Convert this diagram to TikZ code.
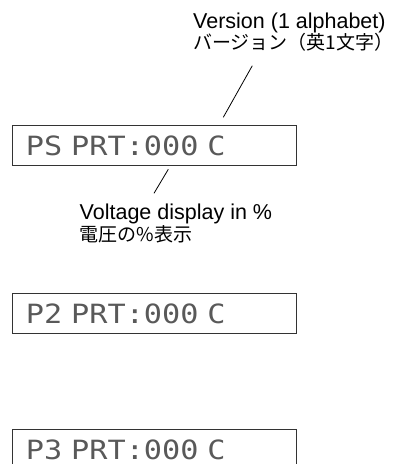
\documentclass[tikz,border=0pt]{standalone}
\usepackage{fontspec}
\setmainfont{Liberation Sans}
\newfontfamily\jpfont{Noto Sans CJK JP}
\newfontfamily\lcdfont[FakeStretch=1.14]{DejaVu Sans Mono}
\begin{document}
\begin{tikzpicture}[x=1pt,y=-1pt,
  lcdbox/.style={draw=black!80, line width=1pt, anchor=north west,
    minimum width=283.4pt, minimum height=40pt, inner xsep=13pt,
    text width=257pt, align=left, text=black!65,
    font=\lcdfont\fontsize{26.5}{30}\selectfont},
  callout/.style={anchor=base west, align=left, inner sep=0pt,
    font=\fontsize{21.5}{21.5}\selectfont},
  leader/.style={draw=black, line width=0.8pt}]
\useasboundingbox (0,0) rectangle (396,464);
\clip (0,0) rectangle (396,464);
% labels (anchor = baseline of the last line)
\node[callout] (ver) at (193,49.5)
  {Version (1 alphabet)\\{\jpfont\fontsize{19}{21.5}\selectfont バージョン（英1文字）}};
\node[callout] (volt) at (79.5,241)
  {Voltage display in \%\\{\jpfont\fontsize{19}{21.5}\selectfont 電圧の\%表示}};
% displays
\node[lcdbox] (ps) at (12.3,125) {PS PRT:000 C};
\node[lcdbox] (p2) at (12.3,293) {P2 PRT:000 C};
\node[lcdbox] (p3) at (12.3,429) {P3 PRT:000 C};
% leader lines
\coordinate (v1) at (252.3,65.7);
\coordinate (v2) at (223.3,117.3);
\coordinate (w1) at (168.3,169.3);
\coordinate (w2) at (154,193.3);
\draw[leader] (v1) -- (v2);
\draw[leader] (w1) -- (w2);
\end{tikzpicture}
\end{document}
